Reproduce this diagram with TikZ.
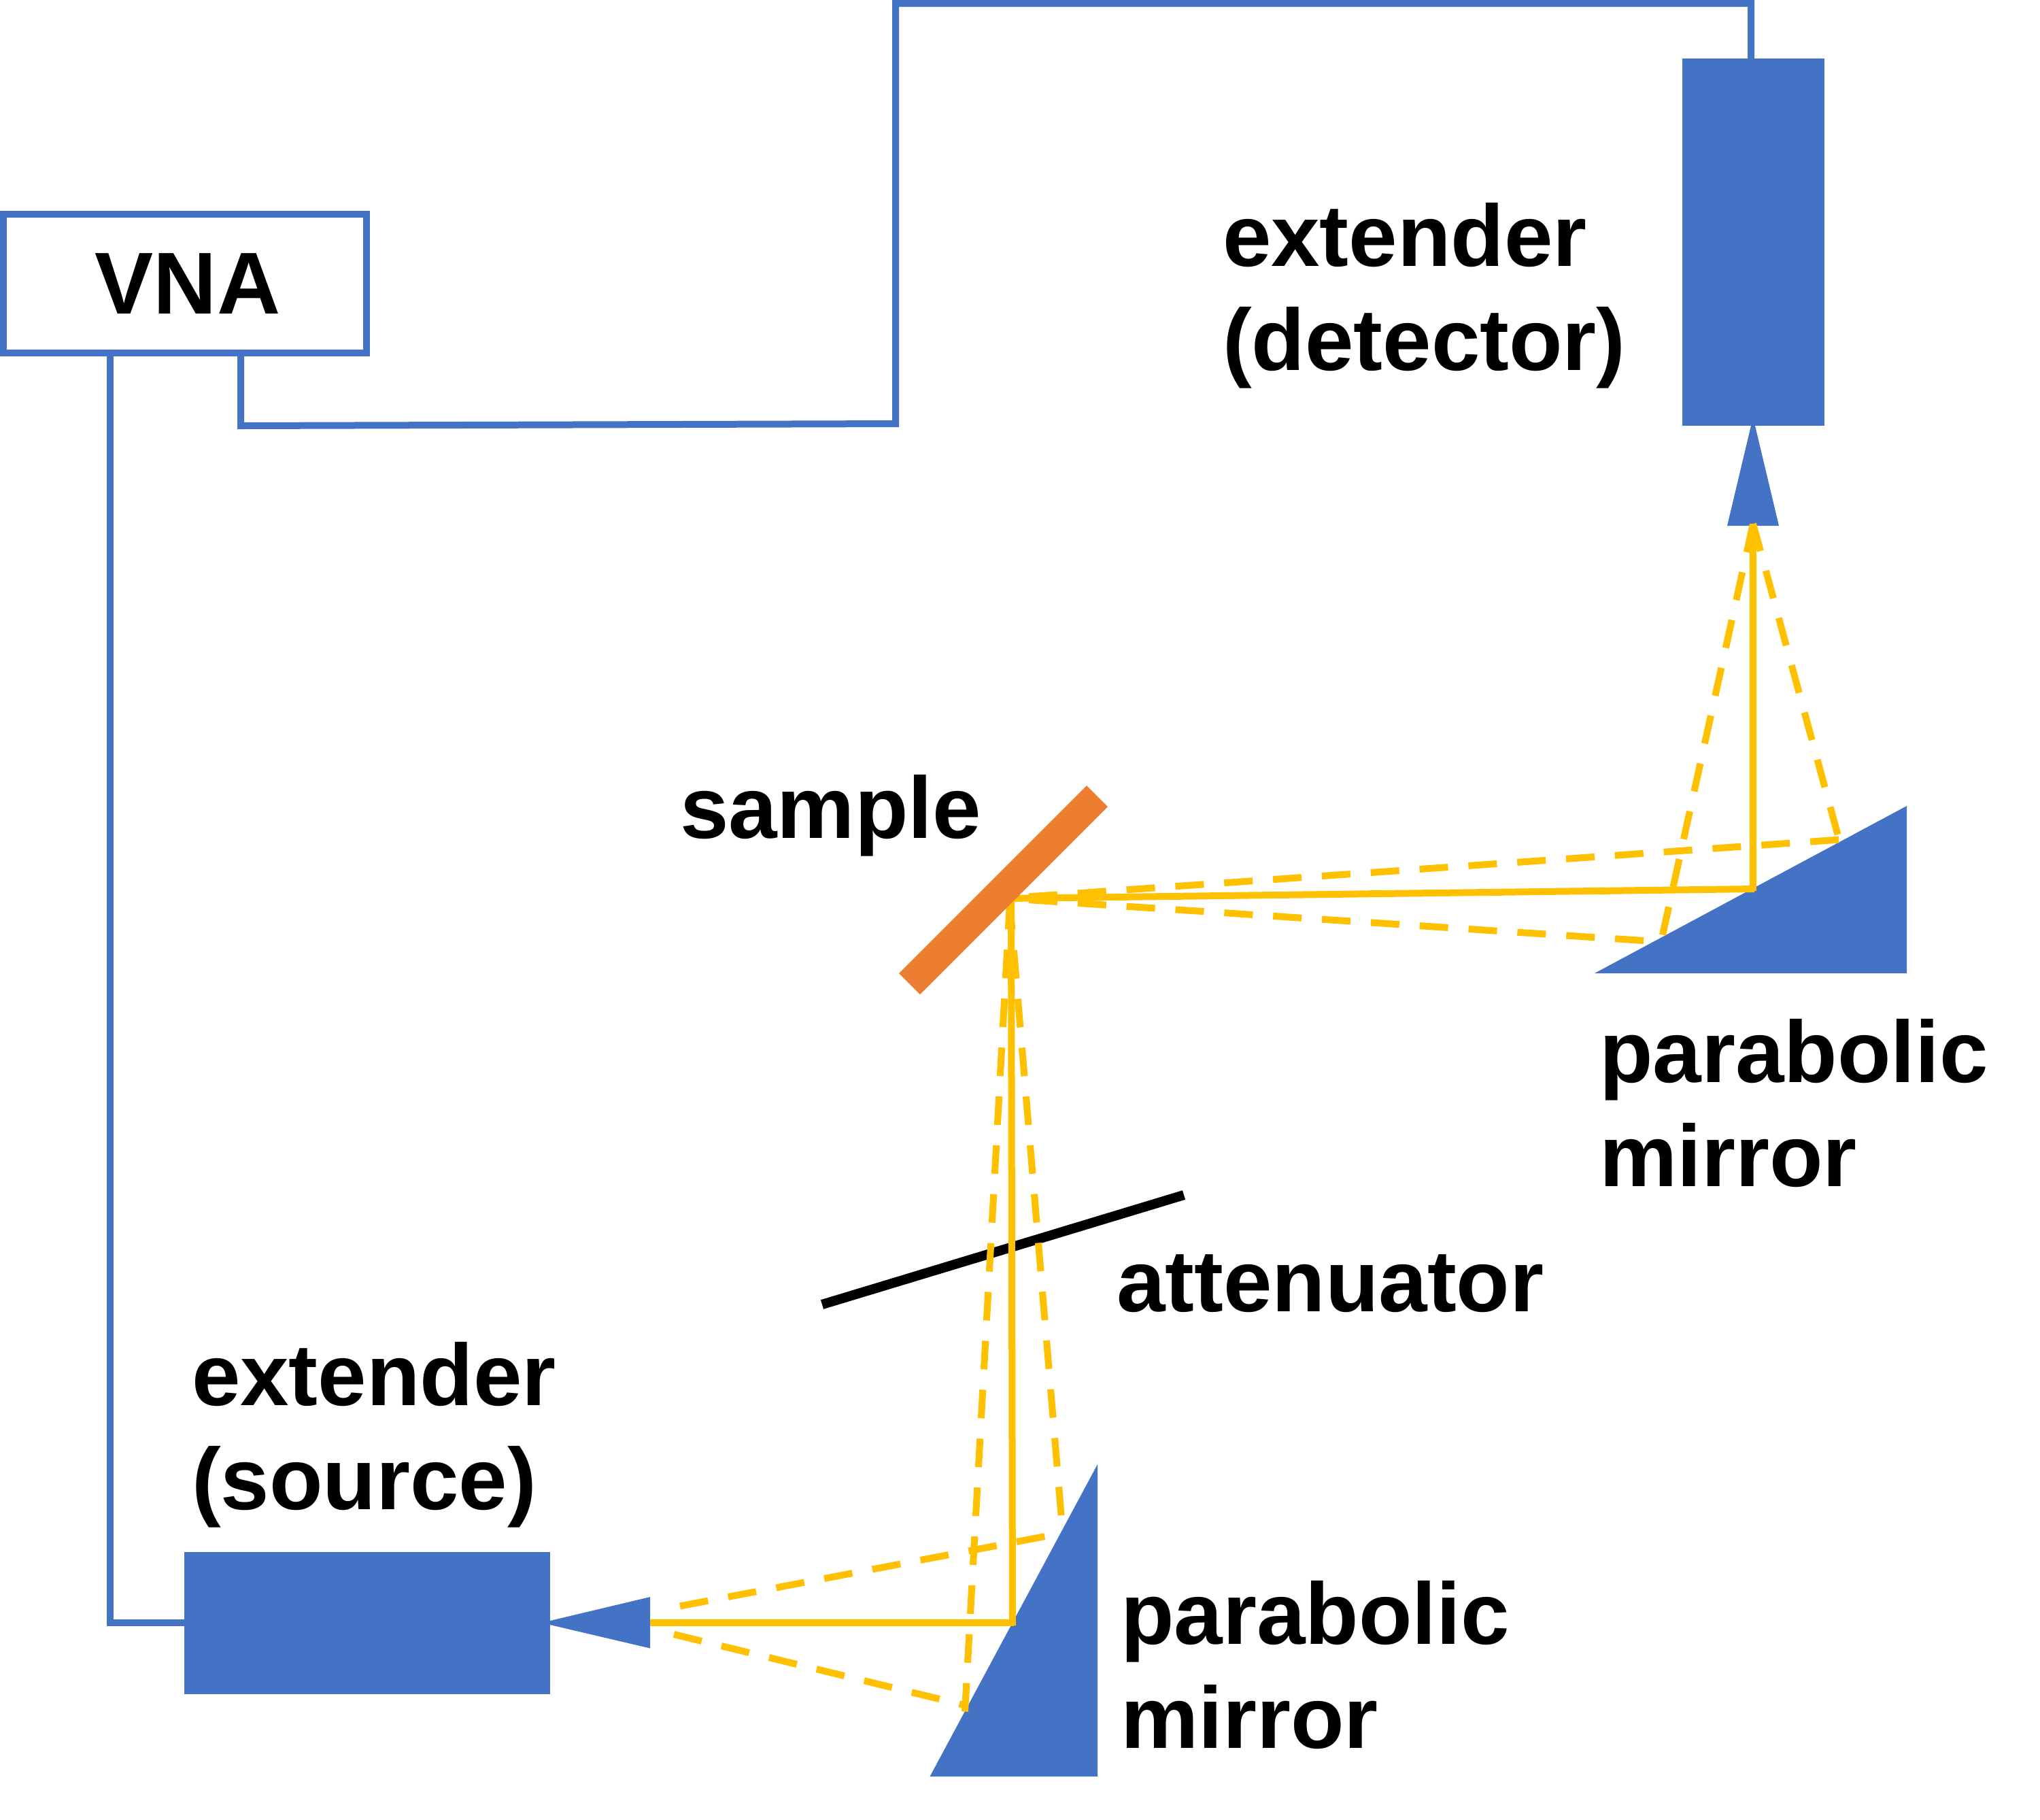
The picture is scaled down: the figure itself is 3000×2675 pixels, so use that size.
\documentclass[tikz,border=0pt]{standalone}
\usepackage{fontspec}
\setmainfont{Liberation Sans}
\definecolor{wireblue}{HTML}{4472C4}
\definecolor{beam}{HTML}{FFC000}
\definecolor{samplec}{HTML}{ED7D31}
\tikzset{
  bluefill/.style={fill=wireblue,draw=none},
  bluebox/.style={bluefill,rectangle,inner sep=0pt,outer sep=0pt},
  vnabox/.style={draw=wireblue,line width=2.4pt,fill=white,rectangle,inner sep=0pt,outer sep=1.2pt,
    minimum width=128.2pt,minimum height=49pt,font=\fontsize{31}{36.3}\selectfont\bfseries},
  wire/.style={draw=wireblue,line width=2.4pt,line join=miter},
  solidbeam/.style={draw=beam,line width=2.4pt},
  dashbeam/.style={draw=beam,line width=2.4pt,dash pattern=on 10.08pt off 7.2pt},
  lab/.style={inner sep=0pt,outer sep=0pt,align=left,font=\fontsize{30.85}{36.8}\selectfont\bfseries},
}
\begin{document}
\begin{tikzpicture}[x=0.24pt,y=-0.24pt]
\useasboundingbox (0,0) rectangle (3000,2675);
\fill[white] (0,0) rectangle (3000,2675);

% named points
\coordinate (w1) at (354,626);
\coordinate (w2) at (1317,623);
\coordinate (w3) at (1317,5);
\coordinate (w4) at (2575,5);
\coordinate (w5) at (162,2386);
\coordinate (detapex) at (2578,626);
\coordinate (detL) at (2540,773);
\coordinate (detR) at (2616,773);
\coordinate (srcapex) at (809,2386);
\coordinate (srcU) at (956,2348);
\coordinate (srcD) at (956,2423.5);
\coordinate (m1a) at (2345,1431);
\coordinate (m1b) at (2804,1185);
\coordinate (m1c) at (2804,1431);
\coordinate (m2a) at (1367.5,2612);
\coordinate (m2b) at (1614,2153);
\coordinate (m2c) at (1614,2612);
\coordinate (s1) at (1598,1155);
\coordinate (s2) at (1629,1186);
\coordinate (s3) at (1353,1462);
\coordinate (s4) at (1322,1431);
\coordinate (att1) at (1209,1918);
\coordinate (att2) at (1741,1757);

% boxes
\node[vnabox] (vna) at (272,417) {\hspace{1.92pt}VNA};
\node[bluebox,minimum width=50.2pt,minimum height=129.6pt] (extdet) at (2578.5,356) {};
\node[bluebox,minimum width=129pt,minimum height=50.2pt] (extsrc) at (540,2386.5) {};

% wires
\draw[wire] (vna.south -| w1) -- (w1) -- (w2) -- (w3) -- (w4) -- (w4 |- extdet.north);
\draw[wire] (vna.south -| w5) -- (w5) -- (w5 -| extsrc.west);

% blue shapes
\fill[bluefill] (detapex) ++(-3,0) -- ++(6,0) -- (detR) -- (detL) -- cycle;
\fill[bluefill] (srcapex) ++(0,-3) -- ++(0,6) -- (srcD) -- (srcU) -- cycle;
\fill[bluefill] (m1a) -- (m1b) -- (m1c) -- cycle;
\fill[bluefill] (m2a) -- (m2b) -- (m2c) -- cycle;

% attenuator lies under the beams
\draw[black,line width=3.4pt] (att1) -- (att2);

% beams
\coordinate (b1) at (956,2386);
\coordinate (b2) at (1491,2386);
\coordinate (b3) at (1487,1321);
\coordinate (b4) at (2580,1307);
\coordinate (b5) at (2578,770);
\draw[solidbeam] (b1) -- (b2);
\draw[solidbeam] (1489,2390) -- (b3);
\draw[solidbeam] (1482,1321) -- (b4);
\draw[solidbeam] (2578,1310) -- (b5);

\coordinate (d1) at (1000,2361.5);
\coordinate (d2) at (1538,2258.7);
\coordinate (d3) at (991,2403);
\coordinate (d4) at (1422,2508);
\coordinate (d5) at (1419,2516.6);
\coordinate (d6) at (1485,1327);
\coordinate (d7) at (1560.6,2228);
\coordinate (d8) at (2704,1234.6);
\coordinate (d9) at (1511,1318.5);
\coordinate (d10) at (2417,1383);
\coordinate (d11) at (1511,1323);
\coordinate (d12) at (2445,1374.5);
\coordinate (d13) at (2702.5,1227);
\draw[dashbeam] (d1) -- (d2);
\draw[dashbeam] (d3) -- (d4);
\draw[dashbeam] (d5) -- (d6);
\draw[dashbeam] (d7) -- (d6);
\draw[dashbeam] (d8) -- (d9);
\draw[dashbeam] (d10) -- (d11);
\draw[dashbeam] (d12) -- (b5);
\draw[dashbeam] (d13) -- (b5);

% sample
\fill[samplec] (s1) -- (s2) -- (s3) -- (s4) -- cycle;

% labels
\node[lab,anchor=north west] (ldet) at (1798,298) {extender\\(detector)};
\node[lab,anchor=north west] (lsrc) at (282,1973) {extender\\(source)};
\node[lab,anchor=north west] (lsam) at (1000,1139) {sample};
\node[lab,anchor=north west] (lm1) at (2352,1498) {parabolic\\mirror};
\node[lab,anchor=north west] (lm2) at (1648,2324) {parabolic\\mirror};
\node[lab,anchor=north west] (latt) at (1642,1845) {attenuator};
\end{tikzpicture}
\end{document}
